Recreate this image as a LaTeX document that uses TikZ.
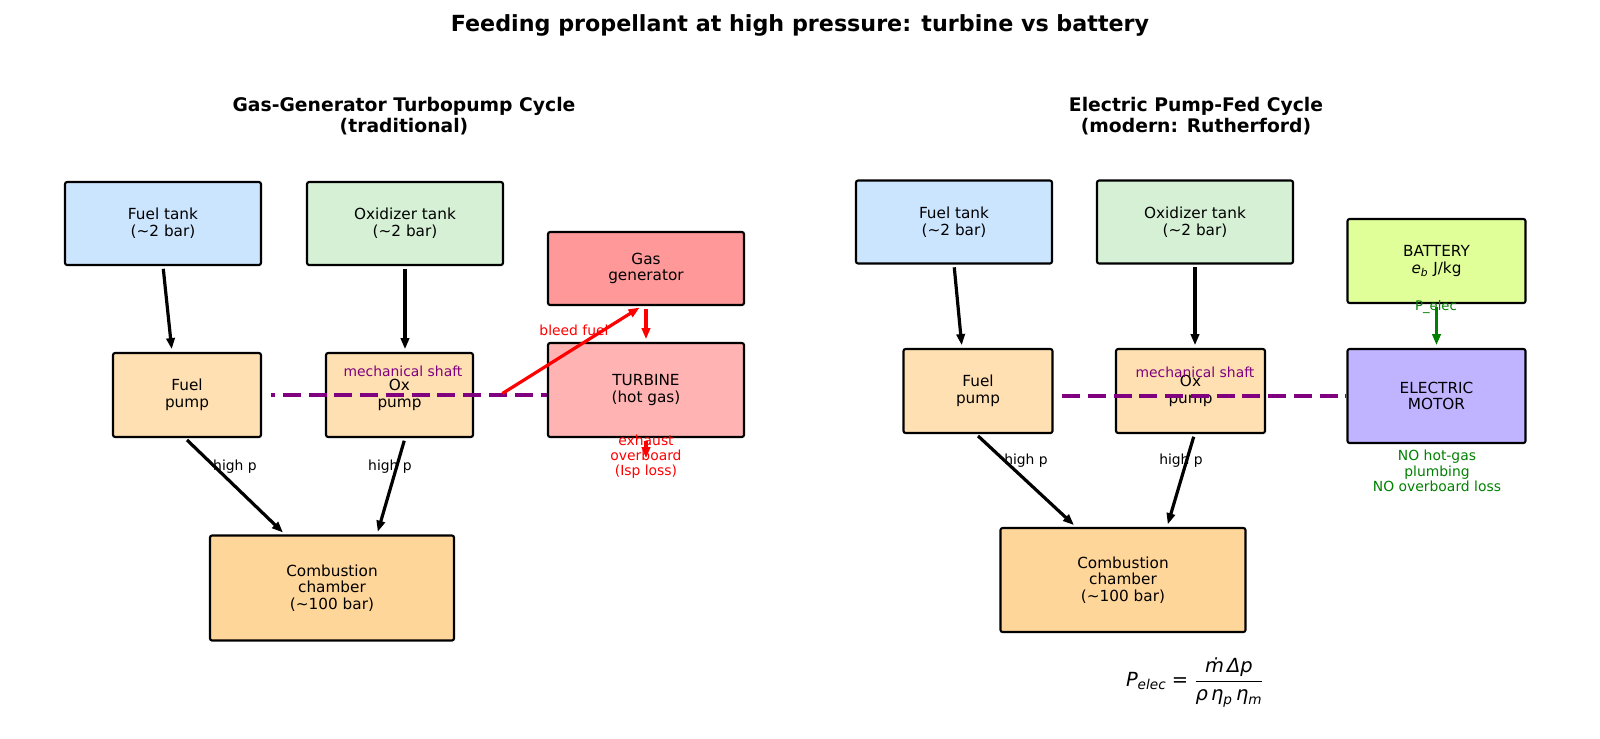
\documentclass[tikz,border=0pt]{standalone}
\usepackage{fontspec}
\usepackage{amsmath}
\setmainfont{DejaVu Sans}
\usetikzlibrary{arrows.meta,calc}
\definecolor{ftank}{HTML}{CCE5FF}
\definecolor{otank}{HTML}{D5F0D5}
\definecolor{ggc}{HTML}{FF9999}
\definecolor{tbc}{HTML}{FFB3B3}
\definecolor{pumpc}{HTML}{FFE0B2}
\definecolor{ccc}{HTML}{FFD699}
\definecolor{batc}{HTML}{E0FF99}
\definecolor{motc}{HTML}{C0B3FF}
\definecolor{mplpurple}{HTML}{800080}
\definecolor{mplgreen}{HTML}{008000}
\definecolor{mplred}{HTML}{FF0000}
\begin{document}
\begin{tikzpicture}[x=0.72pt,y=-0.72pt,
  box/.style={draw=black, line width=1.5pt, rounded corners=1.5pt, align=center, inner sep=0pt, font=\fontsize{11}{12}\selectfont},
  bsz/.style 2 args={minimum width=#1*0.72pt, minimum height=#2*0.72pt},
  lbl/.style={font=\fontsize{10}{11}\selectfont, align=center, inner sep=0pt},
  subt/.style={font=\fontsize{13.5}{15}\selectfont\bfseries, align=center, inner sep=0pt},
  arr/.style={line width=2.3pt, -{Triangle[length=8pt,width=6pt]}, shorten >=2pt, shorten <=2pt},
  redarr/.style={arr, draw=mplred},
  grnarr/.style={arr, draw=mplgreen},
  shaft/.style={line width=3.5pt, draw=mplpurple, dash pattern=on 12.95pt off 5.6pt}
]
\useasboundingbox (0,0) rectangle (1600,738);

% titles
\node[font=\fontsize{16}{19}\selectfont\bfseries, inner sep=0pt] (title) at (800,25) {Feeding propellant at high pressure: turbine vs battery};
\node[subt] (sub1) at (404,116) {Gas-Generator Turbopump Cycle\\(traditional)};
\node[subt] (sub2) at (1196,116) {Electric Pump-Fed Cycle\\(modern: Rutherford)};

% ---------- left: gas generator cycle ----------
\node[box, bsz={196}{83}, fill=ftank] (ft1) at (163,223.5) {Fuel tank\\(\textasciitilde2 bar)};
\node[box, bsz={196}{83}, fill=otank] (ot1) at (405,223.5) {Oxidizer tank\\(\textasciitilde2 bar)};
\node[box, bsz={196}{73}, fill=ggc] (gg) at (646,268.5) {Gas\\generator};
\node[box, bsz={148}{84}, fill=pumpc] (fp1) at (187,395) {Fuel\\pump};
\node[box, bsz={147}{84}, fill=pumpc] (op1) at (399.5,395) {Ox\\pump};
\node[box, bsz={196}{94}, fill=tbc] (tb) at (646,390) {TURBINE\\(hot gas)};
\node[box, bsz={244}{105}, fill=ccc] (cc1) at (332,588) {Combustion\\chamber\\(\textasciitilde100 bar)};

\draw[arr] (ft1.south) -- ($(fp1.north)+(-15,0)$);
\draw[arr] (ot1.south) -- (ot1.south |- op1.north);
\draw[arr] ($(fp1.south)+(-2,0)$) -- ($(cc1.north)+(-47,0)$);
\draw[arr] (op1.south -| ot1.south) -- ($(cc1.north)+(45,0)$);
\node[lbl] (hp1) at (235,467) {high p};
\node[lbl] (hp2) at (390,467) {high p};

\coordinate (s1) at (271,395);
\draw[shaft, dash phase=10pt] (s1) -- (s1 -| tb.west);
\node[lbl, text=mplpurple] (ms1) at (403,371) {mechanical shaft};

\coordinate (bleed) at (500,395);
\draw[redarr] (bleed) -- ($(gg.south)+(-4,0)$);
\node[lbl, text=mplred] (bf) at (574,330) {bleed fuel};
\draw[redarr] (gg.south) -- (tb.north);
\coordinate (exh) at (646,461);
\draw[redarr] (tb.south) -- (exh);
\node[lbl, text=mplred] (exlbl) at (646,456.7) {exhaust\\overboard\\(Isp loss)};

% ---------- right: electric pump-fed ----------
\node[box, bsz={196}{83}, fill=ftank] (ft2) at (954,222) {Fuel tank\\(\textasciitilde2 bar)};
\node[box, bsz={196}{83}, fill=otank] (ot2) at (1195,222) {Oxidizer tank\\(\textasciitilde2 bar)};
\node[box, bsz={178}{84}, fill=batc] (bat) at (1436.5,261) {BATTERY\\\textit{e}$_{\text{\itshape b}}$ J/kg};
\node[box, bsz={149}{84}, fill=pumpc] (fp2) at (978,391) {Fuel\\pump};
\node[box, bsz={149}{84}, fill=pumpc] (op2) at (1190.5,391) {Ox\\pump};
\node[box, bsz={178}{94}, fill=motc] (mot) at (1436.5,396) {ELECTRIC\\MOTOR};
\node[box, bsz={245}{104}, fill=ccc] (cc2) at (1123,580) {Combustion\\chamber\\(\textasciitilde100 bar)};

\draw[arr] (ft2.south) -- ($(fp2.north)+(-16,0)$);
\draw[arr] (ot2.south) -- (ot2.south |- op2.north);
\draw[arr] ($(fp2.south)+(-2,0)$) -- ($(cc2.north)+(-47,0)$);
\draw[arr] ($(op2.south)+(4,0)$) -- ($(cc2.north)+(44,0)$);
\node[lbl] (hp3) at (1026,461) {high p};
\node[lbl] (hp4) at (1181,461) {high p};

\coordinate (s2) at (1062,396);
\draw[shaft] (s2) -- (s2 -| mot.west);
\node[lbl, text=mplpurple] (ms2) at (1195,372) {mechanical shaft};

\draw[grnarr] (bat.south) -- (mot.north);
\node[font=\fontsize{9.5}{11}\selectfont, text=mplgreen, inner sep=0pt] (pel) at (1436,307) {P\_elec};
\node[lbl, text=mplgreen] (nolbl) at (1437,471) {NO hot-gas\\plumbing\\NO overboard loss};

\node[font=\fontsize{14}{17}\selectfont, inner sep=0pt] (eq) at (1195,683)
  {$\text{\itshape P}_{\text{\itshape elec}} \mathrel{\text{=}} \displaystyle\frac{\text{\itshape ṁ\,Δp}}{\text{\itshape ρ\,η}_{\text{\itshape p}}\,\text{\itshape η}_{\text{\itshape m}}}$};
\end{tikzpicture}
\end{document}
